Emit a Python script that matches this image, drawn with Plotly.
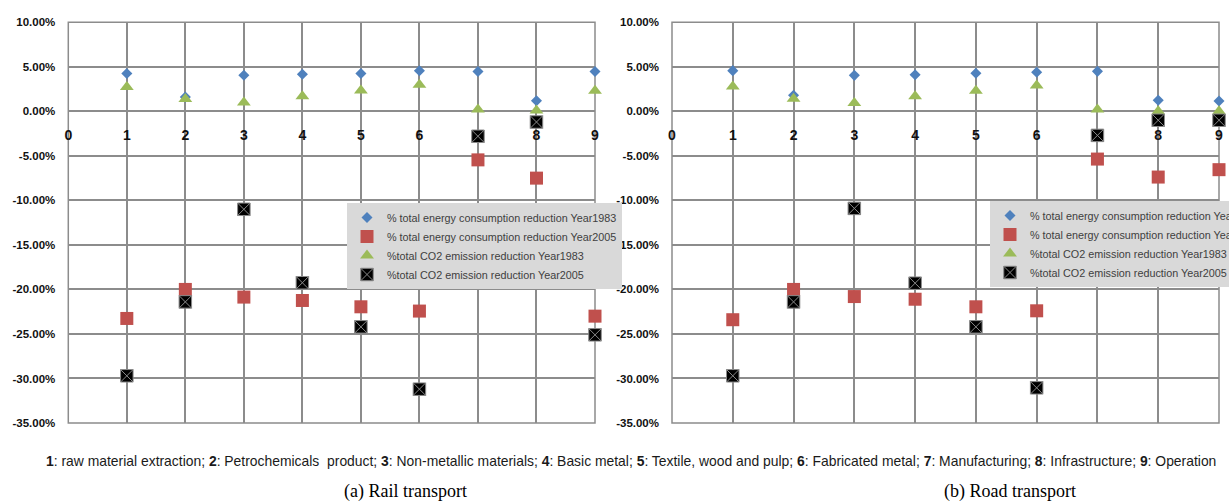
import plotly.graph_objects as go

# ---------------- data ----------------
sectors = [1, 2, 3, 4, 5, 6, 7, 8, 9]
x_tick_values = [0, 1, 2, 3, 4, 5, 6, 7, 8, 9]
x_tick_labels = ["0", "1", "2", "3", "4", "5", "6", "7", "8", "9"]
y_tick_values = [10, 5, 0, -5, -10, -15, -20, -25, -30, -35]
y_tick_labels = ["10.00%", "5.00%", "0.00%", "-5.00%", "-10.00%", "-15.00%",
                 "-20.00%", "-25.00%", "-30.00%", "-35.00%"]

series_names = [
    "% total energy consumption reduction Year1983",
    "% total energy consumption reduction Year2005",
    "%total CO2 emission reduction Year1983",
    "%total CO2 emission reduction Year2005",
]

# (a) Rail transport, values in %
rail_energy_1983 = [4.25, 1.6, 4.06, 4.17, 4.25, 4.55, 4.47, 1.2, 4.47]
rail_energy_2005 = [-23.26, -20.0, -20.86, -21.24, -21.95, -22.43, -5.45, -7.5, -23.0]
rail_co2_1983 = [2.74, 1.4, 1.0, 1.7, 2.33, 3.0, 0.2, 0.1, 2.3]
rail_co2_2005 = [-29.7, -21.4, -11.0, -19.25, -24.2, -31.2, -2.8, -1.2, -25.1]

# (b) Road transport, values in %
road_energy_1983 = [4.57, 1.8, 4.04, 4.12, 4.27, 4.38, 4.49, 1.24, 1.16]
road_energy_2005 = [-23.4, -20.0, -20.8, -21.1, -21.95, -22.4, -5.36, -7.38, -6.55]
road_co2_1983 = [2.8, 1.42, 0.94, 1.7, 2.3, 2.9, 0.2, 0.0, 0.0]
road_co2_2005 = [-29.7, -21.4, -10.9, -19.3, -24.2, -31.05, -2.7, -1.0, -1.0]

caption = ("<b>1</b>: raw material extraction; <b>2</b>: Petrochemicals  product; "
           "<b>3</b>: Non-metallic materials; <b>4</b>: Basic metal; "
           "<b>5</b>: Textile, wood and pulp; <b>6</b>: Fabricated metal; "
           "<b>7</b>: Manufacturing; <b>8</b>: Infrastructure; <b>9</b>: Operation")
subtitles = ["(a) Rail transport", "(b) Road transport"]

# ---------------- style ----------------
W, H = 1229, 504
SANS = "Liberation Sans, Arial, sans-serif"
GRID = "#8c8c8c"

marker_styles = [
    dict(symbol="diamond", size=8.5, color="#4F81BD"),
    dict(symbol="square", size=13, color="#C0504D"),
    dict(symbol="triangle-up", size=12, color="#9BBB59"),
    dict(symbol="square-x", size=12.5, color="#000000", line=dict(color="#8a8a8a", width=1)),
]

px = lambda v: v / W
py = lambda v: 1 - v / H

y_dom = [py(423), py(22.3)]
x_doms = [[px(68.3), px(595)], [px(672), px(1219)]]
zero_pos = y_dom[0] + 35 / 45 * (y_dom[1] - y_dom[0])

fig = go.Figure()

panels = [
    (rail_energy_1983, rail_energy_2005, rail_co2_1983, rail_co2_2005),
    (road_energy_1983, road_energy_2005, road_co2_1983, road_co2_2005),
]

for i, panel in enumerate(panels):
    xa = "x" if i == 0 else "x2"
    ya = "y" if i == 0 else "y2"
    lg = "legend" if i == 0 else "legend2"
    for name, vals, ms in zip(series_names, panel, marker_styles):
        fig.add_trace(go.Scatter(
            x=sectors, y=vals, mode="markers", name=name,
            marker=ms, xaxis=xa, yaxis=ya, legend=lg, cliponaxis=False,
        ))

for i in range(2):
    sfx = "" if i == 0 else "2"
    fig.layout["xaxis" + sfx] = dict(
        domain=x_doms[i], range=[0, 9], anchor="free", position=zero_pos,
        tickmode="array", tickvals=x_tick_values, ticktext=x_tick_labels,
        showgrid=True, gridcolor=GRID, gridwidth=1.5, zeroline=False, showline=False,
        ticks="", ticklabelstandoff=14, layer="below traces",
        tickfont=dict(family=SANS, size=14, color="#111111", weight="bold"),
    )
    fig.layout["yaxis" + sfx] = dict(
        domain=y_dom, range=[-35, 10], anchor="x" + sfx,
        tickmode="array", tickvals=y_tick_values, ticktext=y_tick_labels,
        showgrid=True, gridcolor=GRID, gridwidth=1.5, zeroline=False, showline=False,
        ticks="", ticklabelstandoff=12,
        tickfont=dict(family=SANS, size=11.5, color="#111111", weight="bold"),
    )
    fig.add_shape(type="rect", xref="x" + sfx + " domain", yref="y" + sfx + " domain",
                  x0=0, x1=1, y0=0, y1=1, line=dict(color=GRID, width=1.5), layer="below")

legend_common = dict(
    xanchor="left", yanchor="top", bgcolor="#d9d9d9", borderwidth=0,
    font=dict(family=SANS, size=10.8, color="#404040"),
    itemwidth=30, tracegroupgap=0,
)
fig.update_layout(
    legend=dict(x=px(347), y=py(203), **legend_common),
    legend2=dict(x=px(990), y=py(201), **legend_common),
)

fig.add_annotation(text=caption, x=px(631), y=py(461), xref="paper", yref="paper",
                   showarrow=False, xanchor="center", yanchor="middle",
                   font=dict(family=SANS, size=13.9, color="#1a1a1a"))
for cx, t in zip([405, 1010], subtitles):
    fig.add_annotation(text=t, x=px(cx), y=py(491), xref="paper", yref="paper",
                       showarrow=False, xanchor="center", yanchor="middle",
                       font=dict(family="Liberation Serif, Times New Roman, serif", size=18, color="#000000"))

fig.update_layout(
    width=W, height=H,
    margin=dict(l=0, r=0, t=0, b=0, autoexpand=False),
    paper_bgcolor="white", plot_bgcolor="white",
    showlegend=True,
)

fig.write_html("out.html")
